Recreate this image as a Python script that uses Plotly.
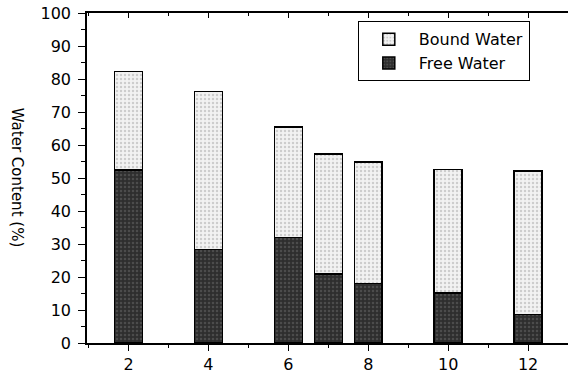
import plotly.graph_objects as go

x_vals = [2, 4, 6, 7, 8, 10, 12]
free_water = [52.4, 28.4, 32.0, 20.9, 18.1, 15.1, 8.7]
bound_water = [29.9, 47.8, 33.5, 36.4, 36.8, 37.5, 43.4]
x_ticks = [2, 4, 6, 8, 10, 12]
y_ticks = [0, 10, 20, 30, 40, 50, 60, 70, 80, 90, 100]

FONT = "DejaVu Sans, Arial, sans-serif"

fig = go.Figure()
fig.add_trace(go.Bar(
    x=x_vals, y=free_water, name="Free Water", width=0.7,
    marker=dict(color="#3a3a3a", line=dict(color="black", width=1.5),
                pattern=dict(shape=".", fgcolor="#6a6a6a", bgcolor="#2e2e2e", size=4, solidity=0.3)),
))
fig.add_trace(go.Bar(
    x=x_vals, y=bound_water, name="Bound Water", width=0.7,
    marker=dict(color="#e4e4e4", line=dict(color="black", width=1.5),
                pattern=dict(shape=".", fgcolor="#a8a8a8", bgcolor="#f2f2f2", size=4, solidity=0.3)),
))

fig.update_layout(
    width=568, height=373,
    margin=dict(l=87, r=0, t=13, b=30),
    barmode="stack",
    plot_bgcolor="white", paper_bgcolor="white",
    font=dict(family=FONT, size=16, color="black"),
    showlegend=True,
    legend=dict(x=0.563, y=0.975, xanchor="left", yanchor="top",
                traceorder="reversed", bordercolor="black", borderwidth=1,
                bgcolor="white", font=dict(size=16), itemwidth=50,
                tracegroupgap=0),
    xaxis=dict(range=[0.96, 13.0], tickvals=x_ticks, ticks="outside", ticklen=6,
               tickwidth=1.2, tickcolor="black", showline=True, linecolor="black",
               linewidth=1.5, showgrid=False, zeroline=False,
               minor=dict(dtick=1, tick0=1, ticks="outside", ticklen=3, tickcolor="black"),
               tickfont=dict(size=16)),
    yaxis=dict(range=[0, 100], tickvals=y_ticks, ticks="outside", ticklen=7,
               tickwidth=1.2, tickcolor="black", showline=True, linecolor="black",
               linewidth=1.5, showgrid=False, zeroline=False, ticklabelstandoff=4,
               minor=dict(dtick=5, tick0=0, ticks="outside", ticklen=4, tickcolor="black"),
               tickfont=dict(size=16)),
    xaxis2=dict(range=[0.96, 13.0], overlaying="x", side="top", anchor="y",
                tickvals=x_ticks, ticks="inside", ticklen=5, tickcolor="black",
                showticklabels=False, showline=True, linecolor="black", linewidth=1.5,
                showgrid=False, zeroline=False,
                minor=dict(dtick=1, tick0=1, ticks="inside", ticklen=3, tickcolor="black")),
    annotations=[dict(text="Water Content (%)", textangle=90, xref="paper", yref="paper",
                      x=-0.145, y=0.5, xanchor="center", yanchor="middle",
                      showarrow=False, font=dict(size=15))],
)
fig.add_trace(go.Scatter(x=[None], y=[None], xaxis="x2", showlegend=False, hoverinfo="skip"))

fig.write_html("out.html")
